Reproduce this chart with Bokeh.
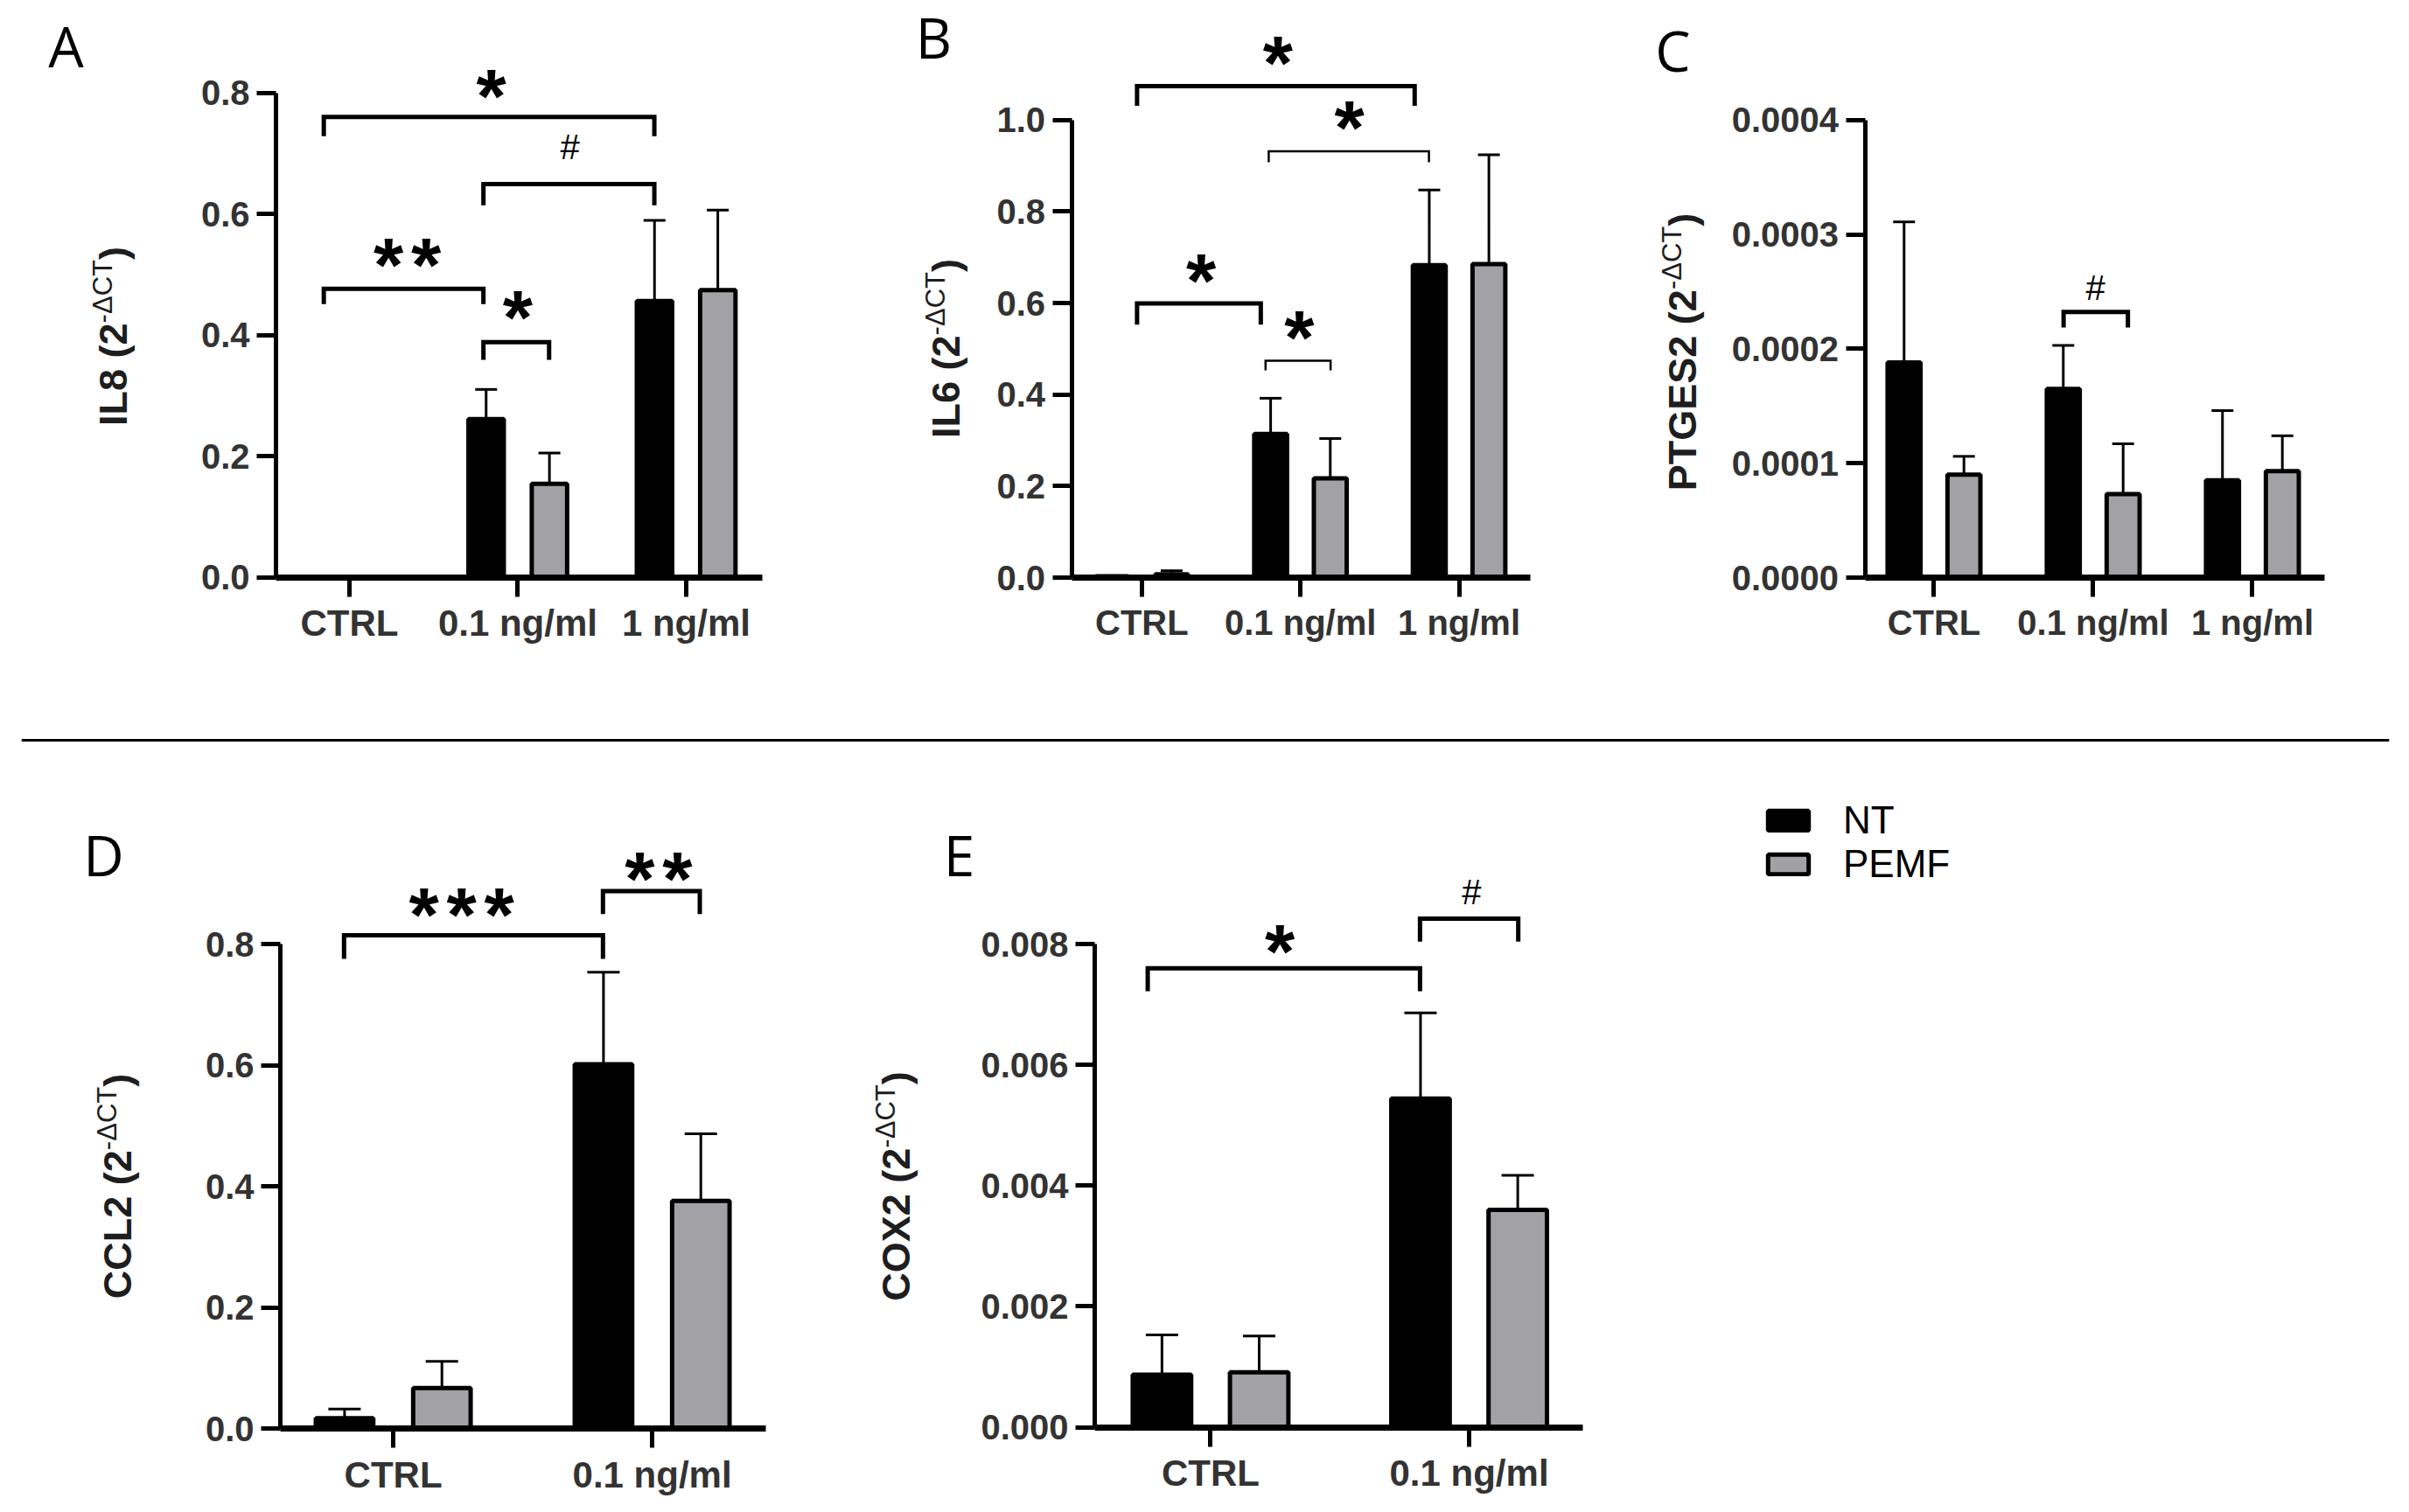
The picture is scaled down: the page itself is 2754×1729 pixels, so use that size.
import math
from bokeh.plotting import figure
from bokeh.models import (ColumnDataSource, FixedTicker, NumeralTickFormatter, Whisker,
                          TeeHead, Label, Legend, LegendItem, Span, Range1d)
from bokeh.layouts import column, row
from bokeh.embed import file_html
from bokeh.resources import INLINE
from bokeh.core.properties import value

# ---------------- data ----------------
groups3 = ["CTRL", "0.1 ng/ml", "1 ng/ml"]
groups2 = ["CTRL", "0.1 ng/ml"]
series = ["NT", "PEMF"]

il8_nt = [0.0, 0.261, 0.456]
il8_nt_sem = [0.0, 0.049, 0.133]
il8_pemf = [0.0, 0.154, 0.474]
il8_pemf_sem = [0.0, 0.051, 0.132]

il6_nt = [0.003, 0.314, 0.683]
il6_nt_sem = [0.001, 0.078, 0.164]
il6_pemf = [0.007, 0.217, 0.685]
il6_pemf_sem = [0.008, 0.087, 0.239]

ptges2_nt = [0.000188, 0.000165, 0.000085]
ptges2_nt_sem = [0.000123, 0.000038, 0.000061]
ptges2_pemf = [0.000090, 0.000073, 0.000093]
ptges2_pemf_sem = [0.000016, 0.000044, 0.000031]

ccl2_nt = [0.017, 0.602]
ccl2_nt_sem = [0.015, 0.152]
ccl2_pemf = [0.067, 0.376]
ccl2_pemf_sem = [0.044, 0.111]

cox2_nt = [0.00087, 0.00544]
cox2_nt_sem = [0.00066, 0.00142]
cox2_pemf = [0.00091, 0.00360]
cox2_pemf_sem = [0.00060, 0.00057]

yticks_il8 = [0.0, 0.2, 0.4, 0.6, 0.8]
yticks_il6 = [0.0, 0.2, 0.4, 0.6, 0.8, 1.0]
yticks_ptges2 = [0.0, 0.0001, 0.0002, 0.0003, 0.0004]
yticks_ccl2 = [0.0, 0.2, 0.4, 0.6, 0.8]
yticks_cox2 = [0.0, 0.002, 0.004, 0.006, 0.008]

# significance brackets: (from x, to x, bar y, tip y, mark, mark x, mark y, thick?)
il8_brackets = [
    (-0.152, 1.811, 0.760, 0.728, "*", 0.843, 0.812, True),
    (0.796, 1.811, 0.649, 0.614, "#", 1.31, 0.710, True),
    (-0.152, 0.796, 0.476, 0.451, "**", 0.344, 0.533, True),
    (0.796, 1.186, 0.388, 0.359, "*", 1.0, 0.447, True),
]
il6_brackets = [
    (-0.03, 1.72, 1.074, 1.031, "*", 0.857, 1.149, True),
    (0.80, 1.81, 0.932, 0.908, "*", 1.308, 1.007, False),
    (-0.03, 0.75, 0.599, 0.553, "*", 0.374, 0.672, True),
    (0.78, 1.19, 0.474, 0.453, "*", 0.993, 0.548, False),
]
ptges2_brackets = [
    (0.814, 1.218, 0.0002323, 0.0002186, "#", 1.015, 0.0002536, True),
]
ccl2_brackets = [
    (-0.19, 0.81, 0.815, 0.776, "***", 0.264, 0.867, True),
    (0.81, 1.184, 0.888, 0.850, "**", 1.025, 0.927, True),
]
cox2_brackets = [
    (-0.243, 0.81, 0.0076, 0.00722, "*", 0.268, 0.00806, True),
    (0.81, 1.19, 0.00842, 0.00804, "#", 1.01, 0.00886, True),
]

# ---------------- style ----------------
NT_COLOR = "black"
PEMF_COLOR = "#a2a2a6"
TICK_COLOR = "#333333"
FONT = "Liberation Sans"

BOLD_W = {'I': .278, 'L': .611, '8': .556, ' ': .278, '(': .333, ')': .333, '2': .556,
          '6': .556, 'P': .667, 'T': .611, 'G': .778, 'E': .667, 'S': .667, 'C': .722,
          'O': .778, 'X': .667}
REG_W = {'-': .333, 'Δ': .667, 'C': .722, 'T': .611}


def text_w(s, table, fs):
    return sum(table.get(c, 0.6) for c in s) * fs


def make_panel(cfg):
    # cfg["box"]: canvas region (left, top, right, bottom) in page pixels
    L_, T_, R_, B_ = cfg["box"]
    ax_x, ax_y = cfg["axis_px"]        # page pixel position of y axis line / x axis line
    x0, x1 = cfg["xaxis_span"]         # data extent of the x axis
    sx, sy = cfg["sx"], cfg["sy"]

    def xd(px):
        return x0 + (px - ax_x) / sx

    def yd(py):
        return (ax_y - py) / sy

    W, H = R_ - L_, B_ - T_
    p = figure(frame_width=W, frame_height=H,
               min_border_left=0, min_border_right=0, min_border_top=0, min_border_bottom=0,
               x_range=Range1d(xd(L_), xd(R_)), y_range=Range1d(yd(B_), yd(T_)),
               output_backend="svg", toolbar_location=None)
    p.grid.visible = False
    p.outline_line_color = None
    p.background_fill_color = "white"
    p.border_fill_color = "white"

    groups = cfg["groups"]
    n = len(groups)
    off = 0.188
    bw = cfg["bar_w"]
    xs_nt = [i - off for i in range(n)]
    xs_pe = [i + off for i in range(n)]

    src_nt = ColumnDataSource(dict(x=xs_nt, top=cfg["nt"],
                                   upper=[v + e for v, e in zip(cfg["nt"], cfg["nt_sem"])]))
    src_pe = ColumnDataSource(dict(x=xs_pe, top=cfg["pemf"],
                                   upper=[v + e for v, e in zip(cfg["pemf"], cfg["pemf_sem"])]))

    for src in (src_nt, src_pe):
        w = Whisker(source=src, base="x", lower="top", upper="upper", dimension="height",
                    line_color="black", line_width=3,
                    upper_head=TeeHead(size=cfg["cap"], line_width=3, line_color="black"),
                    lower_head=None)
        p.add_layout(w)

    r_nt = p.vbar(x="x", top="top", width=bw, bottom=0, source=src_nt,
                  fill_color=NT_COLOR, line_color="black", line_width=5)
    r_pe = p.vbar(x="x", top="top", width=bw, bottom=0, source=src_pe,
                  fill_color=PEMF_COLOR, line_color="black", line_width=5)

    # brackets
    br = cfg["brackets"]
    p.multi_line(xs=[[b[0], b[0], b[1], b[1]] for b in br],
                 ys=[[b[3], b[2], b[2], b[3]] for b in br],
                 line_width=[5 if b[7] else 2.5 for b in br],
                 line_color="black", line_join="miter", line_cap="butt")

    # significance marks
    star_x, star_y, hash_x, hash_y = [], [], [], []
    pitch = 43.0 / sx
    for b in br:
        mark, mx, my = b[4], b[5], b[6]
        if mark.startswith("*"):
            k = len(mark)
            for i in range(k):
                star_x.append(mx + (i - (k - 1) / 2) * pitch)
                star_y.append(my)
        else:
            hash_x.append(mx)
            hash_y.append(my)
    if star_x:
        p.text(x=star_x, y=star_y, text=["*"] * len(star_x), text_font=value(FONT),
               text_font_style="bold", text_font_size="88px", text_align="center",
               text_baseline="alphabetic", y_offset=12, text_color="black")
    if hash_x:
        p.text(x=hash_x, y=hash_y, text=["#"] * len(hash_x), text_font=value(FONT),
               text_font_size="40px", text_align="center",
               text_baseline="alphabetic", y_offset=0, text_color="black")

    # axes (drawn inside the canvas at fixed locations)
    xa = p.xaxis[0]
    ya = p.yaxis[0]
    xa.fixed_location = 0
    ya.fixed_location = x0
    xa.bounds = (x0, x1)
    ya.bounds = (cfg["yticks"][0], cfg["yticks"][-1])
    xa.ticker = FixedTicker(ticks=list(range(n)))
    xa.major_label_overrides = {i: g for i, g in enumerate(groups)}
    ya.ticker = FixedTicker(ticks=cfg["yticks"])
    ya.formatter = NumeralTickFormatter(format=cfg["fmt"])
    for ax in (xa, ya):
        ax.axis_line_color = "black"
        ax.major_tick_line_color = "black"
        ax.major_tick_line_width = 5
        ax.major_tick_out = 22
        ax.major_tick_in = 0
        ax.minor_tick_line_color = None
        ax.major_label_text_font = FONT
        ax.major_label_text_font_style = "bold"
        ax.major_label_text_color = TICK_COLOR
    xa.axis_line_width = 7
    ya.axis_line_width = 5
    xa.major_label_text_font_size = "%dpx" % cfg["xfs"]
    ya.major_label_text_font_size = "40px"
    xa.major_label_standoff = 7
    ya.major_label_standoff = 8

    # panel letter (anchor ~ at the centre of the glyph)
    lt, lx, ly = cfg["letter"]
    p.add_layout(Label(x=xd(lx), y=yd(ly - 2), text=lt, text_font="Open Sans",
                       text_font_size="64px", text_align="center",
                       text_baseline="alphabetic", text_color="black"))

    # y-axis title with superscript
    gene = cfg["gene"]
    cx, cy = cfg["ylab"]
    fs_main, fs_sup = 45, 31
    main_t, sup_t, close_t = gene + " (2", "-ΔCT", ")"
    w1 = text_w(main_t, BOLD_W, fs_main)
    w2 = text_w(sup_t, REG_W, fs_sup)
    w3 = text_w(close_t, BOLD_W, fs_main)
    Ltot = w1 + w2 + w3
    ybot = cy + Ltot / 2
    pieces = [(main_t, ybot, cx, fs_main, "bold"),
              (sup_t, ybot - w1, cx - 12, fs_sup, "normal"),
              (close_t, ybot - w1 - w2, cx, fs_main, "bold")]
    for t, ry, rx, fs, st in pieces:
        p.add_layout(Label(x=xd(rx), y=yd(ry), text=t, angle=math.pi / 2,
                           text_font=FONT, text_font_size="%dpx" % fs,
                           text_font_style=st, text_align="left",
                           text_baseline="alphabetic", text_color="#1e1e1e"))
    return p, r_nt, r_pe


cfgA = dict(gene="IL8", groups=groups3, nt=il8_nt, nt_sem=il8_nt_sem,
            pemf=il8_pemf, pemf_sem=il8_pemf_sem, yticks=yticks_il8, fmt="0.0",
            brackets=il8_brackets, box=(0, 0, 1000, 800), axis_px=(315, 659.5),
            xaxis_span=(-0.436, 2.452), sx=192.5, sy=692.5,
            bar_w=0.21, cap=25, xfs=42, letter=("A", 75, 53.5), ylab=(129, 384))
cfgB = dict(gene="IL6", groups=groups3, nt=il6_nt, nt_sem=il6_nt_sem,
            pemf=il6_pemf, pemf_sem=il6_pemf_sem, yticks=yticks_il6, fmt="0.0",
            brackets=il6_brackets, box=(1000, 0, 1880, 800), axis_px=(1224.5, 660),
            xaxis_span=(-0.443, 2.449), sx=181.35, sy=523.2,
            bar_w=0.207, cap=25, xfs=40, letter=("B", 1067, 44), ylab=(1081, 398))
cfgC = dict(gene="PTGES2", groups=groups3, nt=ptges2_nt, nt_sem=ptges2_nt_sem,
            pemf=ptges2_pemf, pemf_sem=ptges2_pemf_sem, yticks=yticks_ptges2, fmt="0.0000",
            brackets=ptges2_brackets, box=(1880, 0, 2738, 800), axis_px=(2131.5, 660),
            xaxis_span=(-0.434, 2.455), sx=182.0, sy=523.2 / 0.0004,
            bar_w=0.207, cap=25, xfs=40, letter=("C", 1912, 59), ylab=(1923, 402))
cfgD = dict(gene="CCL2", groups=groups2, nt=ccl2_nt, nt_sem=ccl2_nt_sem,
            pemf=ccl2_pemf, pemf_sem=ccl2_pemf_sem, yticks=yticks_ccl2, fmt="0.0",
            brackets=ccl2_brackets, box=(0, 890, 960, 1713), axis_px=(320, 1633),
            xaxis_span=(-0.436, 1.439), sx=296.0, sy=692.0,
            bar_w=0.222, cap=37, xfs=42, letter=("D", 118, 979), ylab=(134, 1356))
cfgE = dict(gene="COX2", groups=groups2, nt=cox2_nt, nt_sem=cox2_nt_sem,
            pemf=cox2_pemf, pemf_sem=cox2_pemf_sem, yticks=yticks_cox2, fmt="0.000",
            brackets=cox2_brackets, box=(960, 890, 2738, 1713), axis_px=(1251, 1631.6),
            xaxis_span=(-0.448, 1.44), sx=295.6, sy=552.6 / 0.008,
            bar_w=0.226, cap=37, xfs=42, letter=("E", 1096, 979), ylab=(1024, 1356))

pA, _, _ = make_panel(cfgA)
pB, _, _ = make_panel(cfgB)
pC, _, _ = make_panel(cfgC)
pD, _, _ = make_panel(cfgD)
pE, rE_nt, rE_pe = make_panel(cfgE)

legend = Legend(items=[LegendItem(label=series[0], renderers=[rE_nt]),
                       LegendItem(label=series[1], renderers=[rE_pe])],
                location=(1055, 700), orientation="vertical",
                glyph_width=58, glyph_height=28, label_standoff=34,
                padding=0, margin=0, spacing=-3,
                border_line_color=None, background_fill_alpha=0,
                label_text_font=FONT, label_text_font_size="44px",
                label_text_color="black")
pE.add_layout(legend)

# divider line between the two rows
div = figure(frame_width=2707, frame_height=90, min_border_left=24, min_border_right=7,
             min_border_top=0, min_border_bottom=0,
             x_range=Range1d(0, 1), y_range=Range1d(0, 90),
             x_axis_location=None, y_axis_location=None,
             output_backend="svg", toolbar_location=None)
div.grid.visible = False
div.outline_line_color = None
div.add_layout(Span(location=44, dimension="width", line_color="black", line_width=3))

layout = column(row(pA, pB, pC, spacing=0), div, row(pD, pE, spacing=0), spacing=0)

open("out.html", "w").write(file_html(layout, INLINE))
